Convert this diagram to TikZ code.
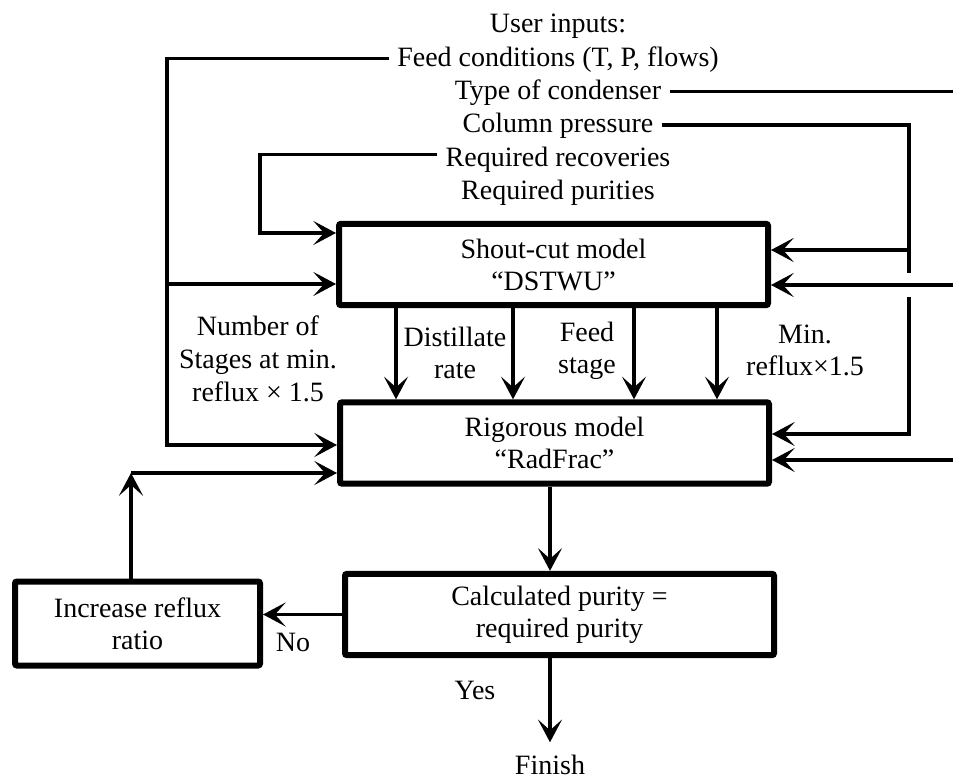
\documentclass[tikz,border=0pt]{standalone}
\usepackage{fontspec}
\setmainfont{Liberation Serif}[Ligatures=CommonOff]
\usetikzlibrary{arrows.meta,positioning}

\begin{document}
\begin{tikzpicture}[x=0.75pt, y=-0.75pt, node distance=25pt, line width=2.6pt,
  >={Stealth[length=17pt, width=18pt, inset=8pt]},
  every node/.style={font=\fontsize{21}{24}\selectfont},
  main/.style={draw, line width=4.5pt, rounded corners=1.5pt, align=center, minimum width=321.75pt, minimum height=61pt},
  inp/.style={inner xsep=5pt, inner ysep=0pt, text height=15pt, text depth=3pt},
  lbl/.style={align=center, inner sep=0pt}]
\useasboundingbox (0,0) rectangle (953,780);

\node[main] (1) at (553.5,264.5) {Shout-cut model\\“DSTWU”};
\node[main] (2) at (554.5,443) {Rigorous model\\“RadFrac”};
\node[main] (3) at (559.5,614.5) {Calculated purity =\\required purity};
\node[main, minimum width=183.75pt, minimum height=63pt] (4) at (137.5,623.5) {Increase reflux\\ratio};

\node[inp] (user) at (558,25) {User inputs:};
\node[inp] (feed) [below of=user] {Feed conditions (T, P, flows)};
\node[inp] (cond) [below of=feed] {Type of condenser};
\node[inp] (col) [below of=cond] {Column pressure};
\node[inp] (recov) [below of=col] {Required recoveries};
\node[inp] (pur) [below of=recov] {Required purities};

\node[lbl, font=\fontsize{21}{25}\selectfont] (nst) at (258,359) {Number of\\Stages at min.\\reflux × 1.5};
\node[lbl] (dr) at (455,353) {Distillate\\rate};
\node[lbl] (fs) at (587,351) {Feed\\stage};
\node[lbl] (mr) at (805,350) {Min.\\reflux×1.5};
\node[lbl] (no) at (293,642) {No};
\node[lbl] (yes) at (475,690) {Yes};
\node[inp] (fin) at (550,766) {Finish};

\coordinate (fb) at (167,284);
\coordinate (fb2) at (167,445);
\coordinate (rb) at (260,233);
\coordinate (edge) at (953,0);
\coordinate (e1) at (953,285);
\coordinate (e2) at (953,460);
\coordinate (pb) at (909,250);
\coordinate (pg1) at (909,273);
\coordinate (pg2) at (909,297);
\coordinate (pb2) at (909,434);
\coordinate (up) at (131,473);

\draw[->] (feed.west) -| (fb) -- (fb -| 1.west);
\draw[->] (fb) -- (fb2) -- (fb2 -| 2.west);
\draw[->] ([yshift=3pt]recov.west) -| (rb) -- (rb -| 1.west);

\draw (cond.east) -- (cond.east -| edge);
\draw[->] (e1) -- (e1 -| 1.east);
\draw[->] (e2) -- (e2 -| 2.east);
\draw (col.east) -| (pg1);
\draw[->] (pb) -- (pb -| 1.east);
\draw[->] (pg2) -- (pb2) -- (pb2 -| 2.east);

\foreach \x in {396,513,634,717}
  \draw[->] (1.south -| \x,0) -- (2.north -| \x,0);

\draw[->] (2.south -| fin) -- (3.north -| fin);
\draw[->] (3.west) -- (3.west -| 4.east);
\draw[->] (4.north -| up) -- (up);
\draw[->] (up) -- (up -| 2.west);
\draw[->, shorten >=7.5pt] (3.south -| fin) -- (fin.north);
\end{tikzpicture}
\end{document}
